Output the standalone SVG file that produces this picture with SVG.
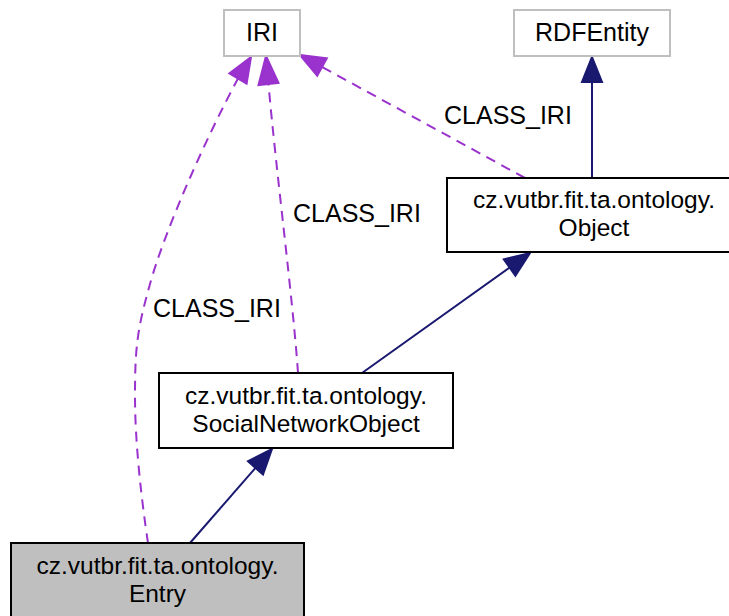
<svg xmlns="http://www.w3.org/2000/svg" width="729" height="616" viewBox="0 0 729 616">
<style>
  text { font-family: "Liberation Sans", Arial, Helvetica, sans-serif; font-size: 25px; fill: #000; text-anchor: middle; }
  .nl { font-size: 24.5px; }
  .lbl { text-anchor: start; }
  .box { fill: #fff; stroke: #000; stroke-width: 2; }
  .ext { fill: #fff; stroke: #bfbfbf; stroke-width: 2; }
  .cur { fill: #bfbfbf; stroke: #000; stroke-width: 2; }
  .inh { fill: none; stroke: #191970; stroke-width: 2; }
  .inhh { fill: #191970; stroke: #191970; stroke-width: 2; }
  .use { fill: none; stroke: #9a32cd; stroke-width: 2; stroke-dasharray: 10,7; }
  .useh { fill: #9a32cd; stroke: #9a32cd; stroke-width: 2; }
</style>
<rect width="729" height="616" fill="#fff"/>
<g id="edges">
  <!-- Object -> RDFEntity -->
  <line class="inh" x1="592" y1="178" x2="592" y2="82"/>
  <polygon class="inhh" points="592,57 602,82 582,82"/>
  <!-- SocialNetworkObject -> Object -->
  <line class="inh" x1="362" y1="373" x2="509.6" y2="267.5"/>
  <polygon class="inhh" points="530,253 515.4,275.6 503.8,259.4"/>
  <!-- Entry -> SocialNetworkObject -->
  <line class="inh" x1="190" y1="543" x2="255.5" y2="467.9"/>
  <polygon class="inhh" points="272,449 263,474.5 248,461.3"/>
  <!-- Entry -> IRI -->
  <path class="use" d="M148,543 C142,503 135,445 135,397 C135,348 137,330 150,284 C165,230 205,140 238,78.5"/>
  <polygon class="useh" points="251,57 246.6,83.6 229.4,73.4"/>
  <text class="lbl" x="153" y="317">CLASS_IRI</text>
  <!-- SocialNetworkObject -> IRI -->
  <path class="use" d="M298,373 C293,300 276,170 268.5,84"/>
  <polygon class="useh" points="266,56 278.5,83 258.5,85"/>
  <text class="lbl" x="293" y="222">CLASS_IRI</text>
  <!-- Object -> IRI -->
  <path class="use" d="M525,178 L322,67"/>
  <polygon class="useh" points="300,55 326.8,58.2 317.2,75.8"/>
  <text class="lbl" x="444" y="124">CLASS_IRI</text>
</g>
<g id="node-IRI">
  <rect class="ext" x="224" y="10" width="76" height="46"/>
  <text x="262" y="41">IRI</text>
</g>
<g id="node-RDFEntity">
  <rect class="ext" x="514" y="10" width="156" height="46"/>
  <text x="592" y="41">RDFEntity</text>
</g>
<g id="node-Object">
  <rect class="box" x="447" y="178" width="294" height="74"/>
  <text class="nl" x="594" y="208">cz.vutbr.fit.ta.ontology.</text>
  <text class="nl" x="594" y="236">Object</text>
</g>
<g id="node-SocialNetworkObject">
  <rect class="box" x="159" y="373" width="294" height="75"/>
  <text class="nl" x="306" y="404">cz.vutbr.fit.ta.ontology.</text>
  <text class="nl" x="306" y="432">SocialNetworkObject</text>
</g>
<g id="node-Entry">
  <rect class="cur" x="11" y="543" width="293" height="76"/>
  <text class="nl" x="157.5" y="574">cz.vutbr.fit.ta.ontology.</text>
  <text class="nl" x="157.5" y="602">Entry</text>
</g>
</svg>
